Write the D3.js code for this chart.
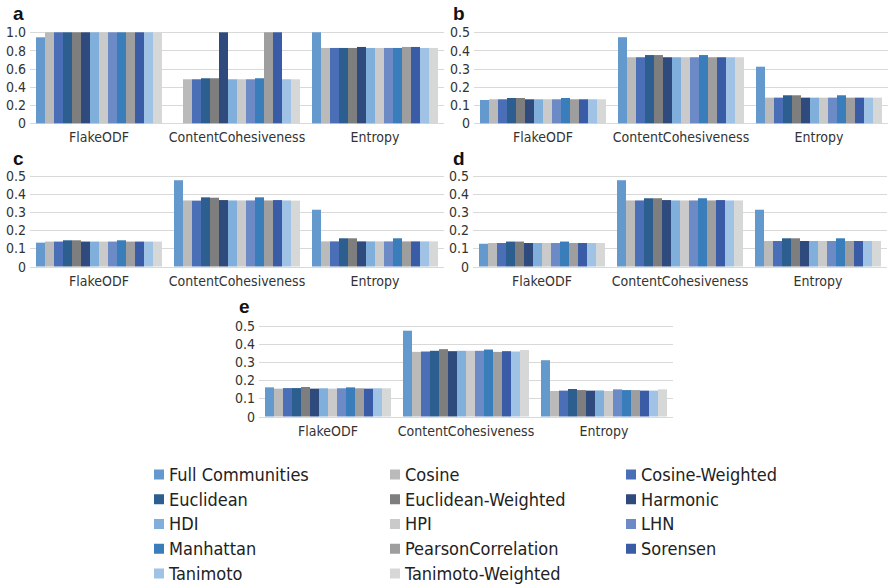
<!DOCTYPE html>
<html>
<head>
<meta charset="utf-8">
<script src="https://cdn.jsdelivr.net/npm/d3@7"></script>
<style>
  html, body { margin: 0; padding: 0; background: #fff; }
  svg { display: block; }
  .tick-label { font-family: "DejaVu Sans Condensed", "DejaVu Sans", sans-serif; font-size: 14px; fill: #333; }
  .cat-label { font-family: "DejaVu Sans Condensed", "DejaVu Sans", sans-serif; font-size: 14px; fill: #333; }
  .legend-label { font-family: "DejaVu Sans Condensed", "DejaVu Sans", sans-serif; font-size: 18px; fill: #222; }
  .panel-label { font-family: "Liberation Sans", Arial, sans-serif; font-size: 19px; font-weight: bold; fill: #111; }
</style>
</head>
<body>
<script>
// Measures and similarity methods
const categories = ["FlakeODF", "ContentCohesiveness", "Entropy"];
const methods = [
  "Full Communities", "Cosine", "Cosine-Weighted", "Euclidean", "Euclidean-Weighted",
  "Harmonic", "HDI", "HPI", "LHN", "Manhattan", "PearsonCorrelation", "Sorensen",
  "Tanimoto", "Tanimoto-Weighted"
];
const methodColors = [
  "#6399cd", "#bababa", "#4a6fb6", "#2c5f8f", "#7e7e7e",
  "#2f4a7d", "#80afdb", "#cacaca", "#6c8ac6", "#3a7dbb", "#9e9e9e", "#3a5ca6",
  "#a0c2e4", "#d6d8d8"
];

// One row per category, one value per method
const valuesA = [
  [0.945, 1.0, 1.0, 1.0, 1.0, 1.0, 1.0, 1.0, 1.0, 1.0, 1.0, 1.0, 1.0, 1.0],
  [0, 0.484, 0.484, 0.495, 0.495, 1.0, 0.484, 0.484, 0.484, 0.495, 1.0, 1.0, 0.484, 0.484],
  [1.0, 0.828, 0.828, 0.828, 0.828, 0.839, 0.828, 0.828, 0.828, 0.828, 0.839, 0.839, 0.828, 0.828]
];
const valuesB = [
  [0.128, 0.132, 0.132, 0.139, 0.139, 0.132, 0.132, 0.132, 0.132, 0.139, 0.132, 0.132, 0.132, 0.132],
  [0.473, 0.363, 0.363, 0.375, 0.375, 0.363, 0.363, 0.363, 0.363, 0.375, 0.363, 0.363, 0.363, 0.363],
  [0.311, 0.141, 0.141, 0.154, 0.154, 0.141, 0.141, 0.141, 0.141, 0.154, 0.141, 0.141, 0.141, 0.141]
];
const valuesC = [
  [0.131, 0.137, 0.137, 0.144, 0.144, 0.137, 0.137, 0.137, 0.137, 0.144, 0.137, 0.137, 0.137, 0.137],
  [0.474, 0.363, 0.362, 0.380, 0.378, 0.365, 0.363, 0.363, 0.363, 0.380, 0.363, 0.365, 0.363, 0.362],
  [0.312, 0.138, 0.138, 0.155, 0.155, 0.138, 0.138, 0.138, 0.138, 0.155, 0.138, 0.138, 0.138, 0.138]
];
const valuesD = [
  [0.125, 0.129, 0.129, 0.137, 0.137, 0.129, 0.129, 0.129, 0.129, 0.137, 0.129, 0.129, 0.129, 0.129],
  [0.474, 0.363, 0.363, 0.375, 0.375, 0.365, 0.363, 0.363, 0.363, 0.375, 0.363, 0.365, 0.363, 0.363],
  [0.312, 0.140, 0.140, 0.155, 0.155, 0.140, 0.140, 0.140, 0.140, 0.155, 0.140, 0.140, 0.140, 0.140]
];
const valuesE = [
  [0.161, 0.154, 0.157, 0.157, 0.163, 0.154, 0.156, 0.154, 0.156, 0.161, 0.156, 0.154, 0.156, 0.156],
  [0.474, 0.357, 0.359, 0.363, 0.372, 0.361, 0.363, 0.363, 0.363, 0.370, 0.357, 0.361, 0.359, 0.367],
  [0.311, 0.141, 0.143, 0.152, 0.146, 0.143, 0.144, 0.141, 0.150, 0.146, 0.146, 0.143, 0.143, 0.150]
];

const ticksA = [0, 0.2, 0.4, 0.6, 0.8, 1.0];
const ticksBE = [0, 0.1, 0.2, 0.3, 0.4, 0.5];

const W = 888, H = 587;
const svg = d3.select("body").append("svg").attr("width", W).attr("height", H);

const panels = [
  { id: "a", data: valuesA, ticks: ticksA, max: 1.0, x0: 30,  x1: 444, y0: 123.3, y1: 32.3, lx: 13,  ly: 20 },
  { id: "b", data: valuesB, ticks: ticksBE, max: 0.5, x0: 474, x1: 888, y0: 123.3, y1: 32.3, lx: 453, ly: 20 },
  { id: "c", data: valuesC, ticks: ticksBE, max: 0.5, x0: 30,  x1: 444, y0: 266.5, y1: 175.5, lx: 13,  ly: 165 },
  { id: "d", data: valuesD, ticks: ticksBE, max: 0.5, x0: 473, x1: 887, y0: 266.5, y1: 175.5, lx: 453, ly: 165 },
  { id: "e", data: valuesE, ticks: ticksBE, max: 0.5, x0: 259, x1: 673, y0: 416.5, y1: 326, lx: 239, ly: 313 }
];

const fmt = v => v === 0 ? "0" : d3.format(".1f")(v);

panels.forEach(p => {
  const g = svg.append("g");
  const x = d3.scaleBand().domain(categories).range([p.x0, p.x1])
    .paddingInner(0.087).paddingOuter(0.0435);
  const xi = d3.scaleBand().domain(methods).range([0, x.bandwidth()]).padding(0);
  const y = d3.scaleLinear().domain([0, p.max]).range([p.y0, p.y1]);

  // gridlines
  g.append("g").selectAll("line").data(p.ticks).join("line")
    .attr("x1", p.x0).attr("x2", p.x1)
    .attr("y1", d => Math.round(y(d)) + 0.5).attr("y2", d => Math.round(y(d)) + 0.5)
    .attr("stroke", "#d9d9d9").attr("stroke-width", 1);

  // y tick labels
  g.append("g").selectAll("text").data(p.ticks).join("text")
    .attr("class", "tick-label")
    .attr("x", p.x0 - 4).attr("y", d => y(d))
    .attr("dy", "0.36em").attr("text-anchor", "end")
    .text(fmt);

  // bars
  const groups = g.append("g").selectAll("g").data(p.data).join("g")
    .attr("transform", (d, i) => `translate(${x(categories[i])},0)`);
  groups.selectAll("rect").data(d => d.map((v, j) => ({ v, j }))).join("rect")
    .attr("x", d => xi(methods[d.j]))
    .attr("width", xi.bandwidth())
    .attr("y", d => y(d.v))
    .attr("height", d => y(0) - y(d.v))
    .attr("fill", d => methodColors[d.j]);

  // category labels
  g.append("g").selectAll("text").data(categories).join("text")
    .attr("class", "cat-label")
    .attr("x", d => x(d) + x.bandwidth() / 2)
    .attr("y", p.y0 + 19)
    .attr("text-anchor", "middle")
    .text(d => d);

  // panel letter
  g.append("text").attr("class", "panel-label")
    .attr("x", p.lx).attr("y", p.ly).text(p.id);
});

// legend: three columns, filled row by row
const legendCols = [154, 390, 626];
const legendRow0 = 474.5, legendStep = 24.75;
const legend = svg.append("g").selectAll("g").data(methods).join("g")
  .attr("transform", (d, i) => `translate(${legendCols[i % 3]},${legendRow0 + Math.floor(i / 3) * legendStep})`);
legend.append("rect")
  .attr("x", 0).attr("y", -5).attr("width", 10).attr("height", 10)
  .attr("fill", (d, i) => methodColors[i]);
legend.append("text")
  .attr("class", "legend-label")
  .attr("x", 15).attr("y", 0).attr("dy", "0.36em")
  .text(d => d);
</script>
</body>
</html>
